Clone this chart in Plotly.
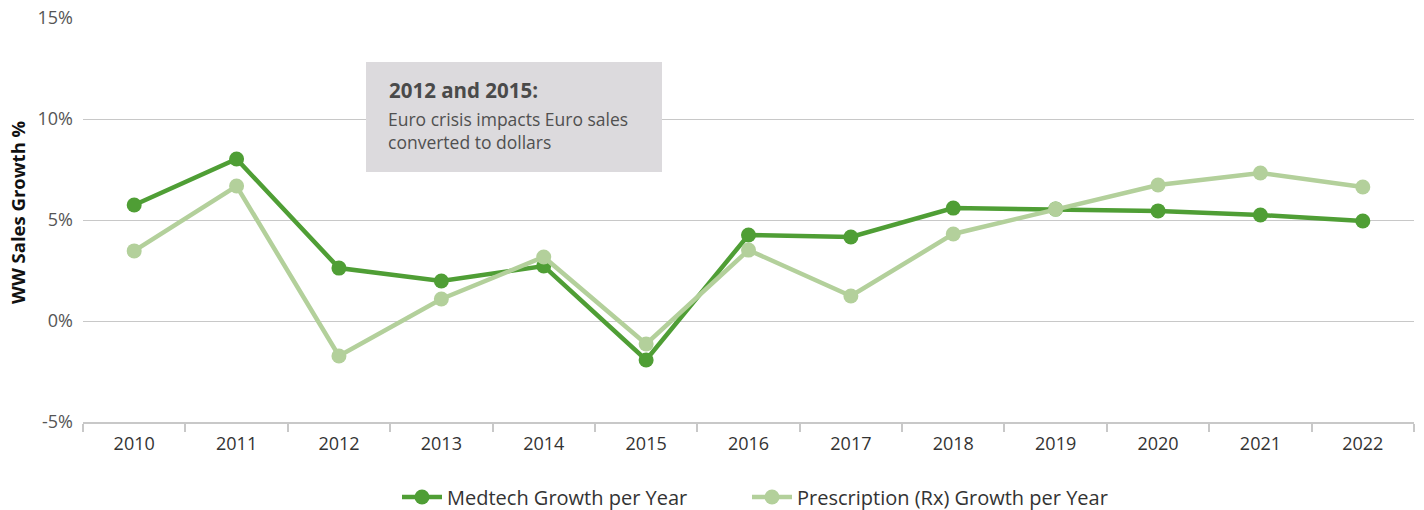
import plotly.graph_objects as go

years = ["2010", "2011", "2012", "2013", "2014", "2015", "2016", "2017", "2018", "2019", "2020", "2021", "2022"]
medtech = [5.74, 8.02, 2.62, 1.98, 2.72, -1.93, 4.26, 4.16, 5.59, 5.54, 5.45, 5.25, 4.95]
rx = [3.47, 6.68, -1.73, 1.09, 3.17, -1.14, 3.51, 1.24, 4.31, 5.54, 6.73, 7.33, 6.63]
y_ticks = [-5, 0, 5, 10, 15]
y_tick_labels = ["-5%", "0%", "5%", "10%", "15%"]

DARK = "#4f9e35"
LIGHT = "#b3d09b"
FONT = "'Open Sans', Lato, sans-serif"

W, H = 1424, 510
L, R, T, B = 83, 10, 18, 88
PW, PH = W - L - R, H - T - B

def px(x):
    return (x - L) / PW

def py(y):
    return (H - B - y) / PH

fig = go.Figure()
fig.add_trace(go.Scatter(x=years, y=medtech, mode="lines+markers", name="Medtech Growth per Year",
                         line=dict(color=DARK, width=4.5), marker=dict(color=DARK, size=15),
                         legend="legend"))
fig.add_trace(go.Scatter(x=years, y=rx, mode="lines+markers", name="Prescription (Rx) Growth per Year",
                         line=dict(color=LIGHT, width=4.5), marker=dict(color=LIGHT, size=15),
                         legend="legend2"))

legend_common = dict(orientation="h", xanchor="left", xref="container",
                     y=(H - 497) / H, yanchor="middle", yref="container",
                     font=dict(size=20, color="#333"), itemwidth=40,
                     bgcolor="rgba(0,0,0,0)")

fig.update_layout(
    width=W, height=H,
    margin=dict(l=L, r=R, t=T, b=B, autoexpand=False),
    plot_bgcolor="white", paper_bgcolor="white",
    font=dict(family=FONT, size=16, color="#444"),
    showlegend=True,
    legend=dict(x=397 / W, **legend_common),
    legend2=dict(x=747 / W, **legend_common),
    xaxis=dict(type="category", tickson="boundaries", ticks="outside", ticklen=8, tickcolor="#c8c8c8",
               tickwidth=1.5, showline=True, linecolor="#c8c8c8", linewidth=1.5, showgrid=False,
               tickfont=dict(size=18, color="#333"), range=[-0.5, 12.5], automargin=False,
               ticklabelstandoff=5),
    yaxis=dict(range=[-5, 15], tickvals=y_ticks, ticktext=y_tick_labels, showgrid=True,
               gridcolor="#c8c8c8", gridwidth=1.2, zeroline=False, ticks="", ticklen=0,
               tickfont=dict(size=18, color="#555"), automargin=False, ticklabelstandoff=9),
)

# y-axis title
fig.add_annotation(xref="paper", yref="paper", x=px(17), y=py(212), xanchor="center", yanchor="middle",
                   showarrow=False, textangle=-90, text="<b>WW Sales Growth %</b>",
                   font=dict(size=18.5, color="#111", family=FONT))

# Annotation box
fig.add_shape(type="rect", xref="paper", yref="paper",
              x0=px(366), x1=px(662), y0=py(172), y1=py(62),
              fillcolor="#dcdadd", line=dict(width=0), layer="above")
fig.add_annotation(xref="paper", yref="paper", x=px(387), y=py(90),
                   xanchor="left", yanchor="middle", showarrow=False,
                   text="<b>2012 and 2015:</b>", font=dict(size=20.5, color="#4a4a4a", family=FONT))
fig.add_annotation(xref="paper", yref="paper", x=px(386), y=py(130.5),
                   xanchor="left", yanchor="middle", showarrow=False, align="left",
                   text="Euro crisis impacts Euro sales<br>converted to dollars",
                   font=dict(size=17.5, color="#505050", family=FONT))

fig.write_html("out.html", config={"displayModeBar": False},
               post_script="document.body.style.margin='0';document.body.style.overflow='hidden';")
